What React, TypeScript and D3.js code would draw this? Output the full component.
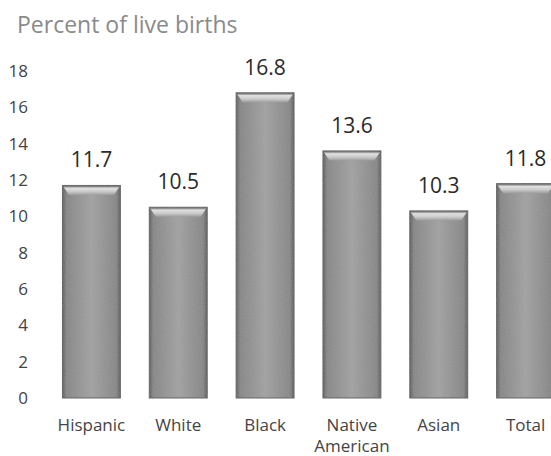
import { useEffect, useRef } from 'react'
import * as d3 from 'd3'

const categories = ['Hispanic', 'White', 'Black', 'Native American', 'Asian', 'Total']
const values = [11.7, 10.5, 16.8, 13.6, 10.3, 11.8]
const yTicks = [0, 2, 4, 6, 8, 10, 12, 14, 16, 18]
const title = 'Percent of live births'

export default function App() {
  const svgRef = useRef<SVGSVGElement>(null)

  useEffect(() => {
    if (!svgRef.current) return
    const svg = d3.select(svgRef.current)
    svg.selectAll('*').remove()

    const font = "'Open Sans', sans-serif"

    // last bar runs slightly off the right edge, as in the scan
    const x = d3.scaleBand<string>()
      .domain(categories)
      .range([48, 569])
      .paddingInner(0.333)
      .paddingOuter(0.1665)

    const y = d3.scaleLinear().domain([0, 18]).range([398, 71])

    const defs = svg.append('defs')

    // horizontal shading of the bar body
    const side = defs.append('linearGradient').attr('id', 'barSide')
      .attr('x1', '0%').attr('x2', '100%').attr('y1', '0%').attr('y2', '0%')
    ;[[0, '#555555'], [0.07, '#838383'], [0.5, '#a0a0a0'], [0.93, '#838383'], [1, '#555555']]
      .forEach(([o, c]) => side.append('stop').attr('offset', o as number).attr('stop-color', c as string))

    // top bevel highlight
    const top = defs.append('linearGradient').attr('id', 'barTop')
      .attr('x1', '0%').attr('x2', '0%').attr('y1', '0%').attr('y2', '100%')
    ;[[0, '#666666'], [0.25, '#e0e0e0'], [0.6, '#cccccc'], [1, '#9e9e9e']]
      .forEach(([o, c]) => top.append('stop').attr('offset', o as number).attr('stop-color', c as string))

    // grain like a scanned print
    const grain = defs.append('filter').attr('id', 'grain')
    grain.append('feTurbulence').attr('type', 'fractalNoise').attr('baseFrequency', 0.9)
      .attr('numOctaves', 2).attr('seed', 3).attr('result', 'noise')
    grain.append('feColorMatrix').attr('in', 'noise').attr('type', 'matrix')
      .attr('values', '0 0 0 0 0.5  0 0 0 0 0.5  0 0 0 0 0.5  0 0 0 0.22 0').attr('result', 'n2')
    grain.append('feComposite').attr('in', 'n2').attr('in2', 'SourceGraphic').attr('operator', 'atop')

    svg.append('text')
      .attr('x', 17)
      .attr('y', 33)
      .style('font-family', font)
      .style('font-size', '23px')
      .style('fill', '#8a8a8a')
      .text(title)

    // y tick labels
    svg.append('g').selectAll('text')
      .data(yTicks)
      .enter()
      .append('text')
      .attr('x', 28)
      .attr('y', d => y(d) + 6)
      .attr('text-anchor', 'end')
      .style('font-family', font)
      .style('font-size', '17px')
      .style('fill', '#444')
      .text(d => d)

    const bars = svg.append('g').selectAll('g')
      .data(categories.map((c, i) => ({ c, v: values[i] })))
      .enter()
      .append('g')

    bars.append('rect')
      .attr('x', d => x(d.c)!)
      .attr('y', d => y(d.v))
      .attr('width', x.bandwidth())
      .attr('height', d => y(0) - y(d.v))
      .style('fill', 'url(#barSide)')
      .style('stroke', '#555')
      .style('stroke-width', 1)
      .style('filter', 'url(#grain)')

    bars.append('path')
      .attr('d', d => {
        const x0 = x(d.c)! + 0.5
        const x1 = x0 + x.bandwidth() - 1
        const t = y(d.v) + 0.5
        return `M${x0},${t} L${x1},${t} L${x1 - 6},${t + 9} L${x0 + 6},${t + 9} Z`
      })
      .style('fill', 'url(#barTop)')

    bars.append('text')
      .attr('x', d => x(d.c)! + x.bandwidth() / 2)
      .attr('y', d => y(d.v) - 18)
      .attr('text-anchor', 'middle')
      .style('font-family', font)
      .style('font-size', '21px')
      .style('fill', '#2a2a2a')
      .text(d => d.v.toFixed(1))

    // category labels, wrapped on the space for two-word names
    const labels = svg.append('g').selectAll('text')
      .data(categories)
      .enter()
      .append('text')
      .attr('text-anchor', 'middle')
      .style('font-family', font)
      .style('font-size', '17px')
      .style('fill', '#444')

    labels.each(function (d) {
      const words = d.split(' ')
      const t = d3.select(this)
      words.forEach((w, i) => {
        t.append('tspan')
          .attr('x', x(d)! + x.bandwidth() / 2)
          .attr('y', 431 + i * 21)
          .text(w)
      })
    })
  }, [])

  return (
    <svg
      ref={svgRef}
      width={551}
      height={456}
      style={{ position: 'absolute', left: 0, top: 0, background: '#fff' }}
    />
  )
}
